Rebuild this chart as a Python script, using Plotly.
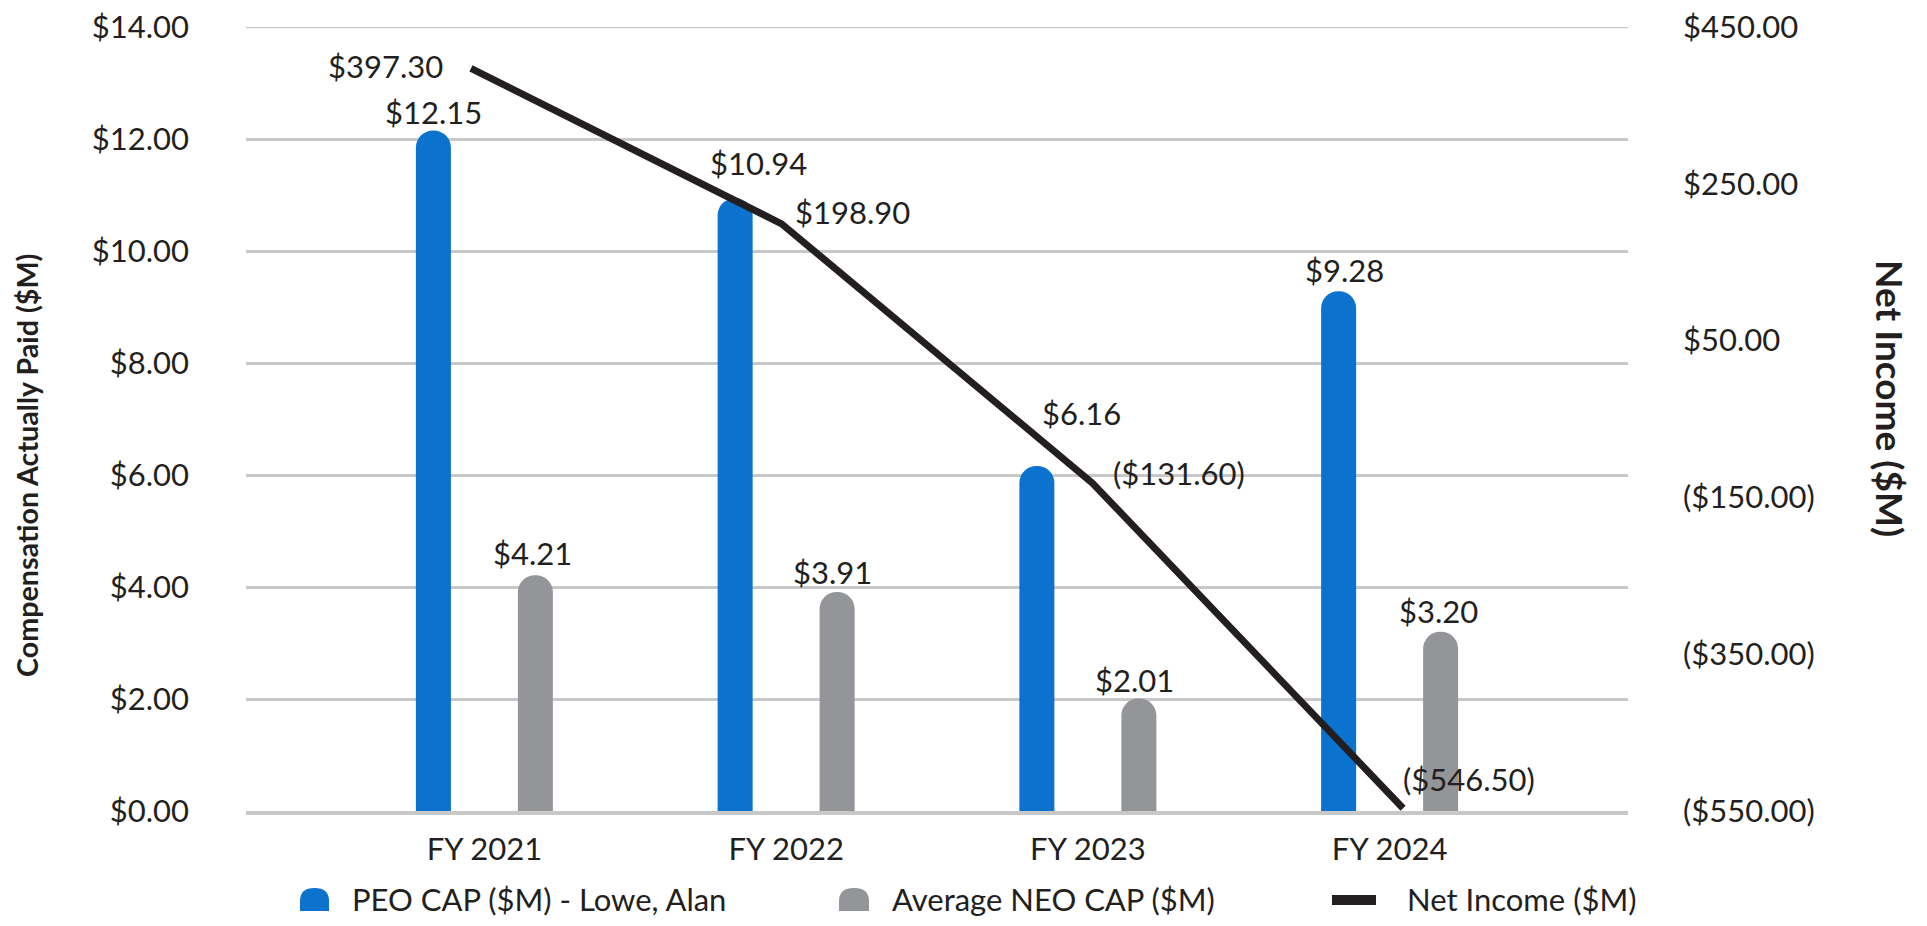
import plotly.graph_objects as go

# ---------------- data ----------------
categories = ["FY 2021", "FY 2022", "FY 2023", "FY 2024"]
peo_cap = [12.15, 10.94, 6.16, 9.28]
neo_cap = [4.21, 3.91, 2.01, 3.20]
net_income = [397.30, 198.90, -131.60, -546.50]

left_tickvals = [0, 2, 4, 6, 8, 10, 12, 14]
left_ticktext = ["$0.00", "$2.00", "$4.00", "$6.00", "$8.00", "$10.00", "$12.00", "$14.00"]
right_tickvals = [-550, -350, -150, 50, 250, 450]
right_ticktext = ["($550.00)", "($350.00)", "($150.00)", "$50.00", "$250.00", "$450.00"]

series_names = ["PEO CAP ($M) - Lowe, Alan", "Average NEO CAP ($M)", "Net Income ($M)"]

# ---------------- styles / layout ----------------
W, H = 1927, 926
PAGE_OFF = 8            # default body margin of the html page
L, R, T, B = 246, 1628, 27, 811   # plot area in screen pixels
BLUE = "#0B72CE"
GRAY = "#939598"
BLACK = "#231F20"
GRID = "#C8C8C8"
FONT = "Lato"
FS = 31

BAR_OFF = 0.169
BAR_W = 0.116

# label offsets (pixels)
peo_lbl_dx = [0, 23, 45, 6]
peo_lbl_dy = [19, 35, 53, 21]
neo_lbl_dx = [-3, -5, -4, -2]
neo_lbl_dy = [22, 20, 18, 21]
ni_lbl_anchor = ["right", "left", "left", "left"]
ni_lbl_dx = [-26, 11, 19, -2]
ni_lbl_dy = [2, 12, 10, 29]


def px_x(px):
    return (px - L) / (R - L)


def px_y(py):
    return (B - py) / (B - T)


def money(v):
    return f"(${abs(v):,.2f})" if v < 0 else f"${v:,.2f}"


idx = list(range(len(categories)))

fig = go.Figure()
fig.add_trace(go.Bar(
    x=idx, y=peo_cap, name=series_names[0], width=BAR_W, offset=-BAR_OFF - BAR_W / 2,
    marker=dict(color=BLUE, cornerradius="50%", line=dict(width=0)), showlegend=False,
    hoverinfo="y",
))
fig.add_trace(go.Bar(
    x=idx, y=neo_cap, name=series_names[1], width=BAR_W, offset=BAR_OFF - BAR_W / 2,
    marker=dict(color=GRAY, cornerradius="50%", line=dict(width=0)), showlegend=False,
    hoverinfo="y",
))
fig.add_trace(go.Scatter(
    x=idx, y=net_income, name=series_names[2], mode="lines",
    line=dict(color=BLACK, width=7), xaxis="x2", yaxis="y2", showlegend=False,
))

annotations = []
for i in idx:
    annotations.append(dict(
        x=i - BAR_OFF, y=peo_cap[i], xref="x", yref="y", text=money(peo_cap[i]),
        showarrow=False, xanchor="center", yanchor="middle",
        xshift=peo_lbl_dx[i], yshift=peo_lbl_dy[i],
        font=dict(family=FONT, size=FS, color=BLACK)))
    annotations.append(dict(
        x=i + BAR_OFF, y=neo_cap[i], xref="x", yref="y", text=money(neo_cap[i]),
        showarrow=False, xanchor="center", yanchor="middle",
        xshift=neo_lbl_dx[i], yshift=neo_lbl_dy[i],
        font=dict(family=FONT, size=FS, color=BLACK)))
    annotations.append(dict(
        x=i, y=net_income[i], xref="x2", yref="y2", text=money(net_income[i]),
        showarrow=False, xanchor=ni_lbl_anchor[i], yanchor="middle",
        xshift=ni_lbl_dx[i], yshift=ni_lbl_dy[i],
        font=dict(family=FONT, size=FS, color=BLACK)))

# axis titles
annotations.append(dict(
    x=px_x(27), y=px_y(466), xref="paper", yref="paper", text="<b>Compensation Actually Paid ($M)</b>",
    textangle=-90, showarrow=False, xanchor="center", yanchor="middle",
    font=dict(family=FONT, size=28.7, color=BLACK)))
annotations.append(dict(
    x=px_x(1891), y=px_y(398), xref="paper", yref="paper", text="<b>Net Income ($M)</b>",
    textangle=90, showarrow=False, xanchor="center", yanchor="middle",
    font=dict(family=FONT, size=37, color=BLACK)))

# legend (manual)
leg_text_x = [350, 890, 1405]
leg_y = 899
for name, tx in zip(series_names, leg_text_x):
    annotations.append(dict(
        x=px_x(tx), y=px_y(leg_y), xref="paper", yref="paper", text=name,
        showarrow=False, xanchor="left", yanchor="middle",
        font=dict(family=FONT, size=FS, color=BLACK)))


def rounded_top(x0, x1, y0, y1, r):
    X0, X1, XC = px_x(x0), px_x(x1), px_x((x0 + x1) / 2)
    YT, YM, YB = px_y(y0), px_y(y0 + r), px_y(y1)
    return (f"M {X0},{YB} L {X0},{YM} Q {X0},{YT} {XC},{YT} "
            f"Q {X1},{YT} {X1},{YM} L {X1},{YB} Z")


shapes = [
    # top gridline (plotly drops gridlines lying on the plot edge)
    dict(type="line", xref="paper", yref="y", x0=0, x1=1, y0=left_tickvals[-1], y1=left_tickvals[-1],
         line=dict(color=GRID, width=2.5), layer="below"),
    dict(type="path", xref="paper", yref="paper", path=rounded_top(300, 329, 888, 911, 13),
         fillcolor=BLUE, line=dict(width=0)),
    dict(type="path", xref="paper", yref="paper", path=rounded_top(839, 869, 888, 911, 13),
         fillcolor=GRAY, line=dict(width=0)),
    dict(type="line", xref="paper", yref="paper", x0=px_x(1332), x1=px_x(1376),
         y0=px_y(900), y1=px_y(900), line=dict(color=BLACK, width=10)),
]

fig.update_layout(
    width=W - PAGE_OFF, height=H - PAGE_OFF,
    margin=dict(l=L - PAGE_OFF, r=W - R, t=T - PAGE_OFF, b=H - B, pad=0, autoexpand=False),
    paper_bgcolor="white", plot_bgcolor="white",
    barmode="overlay",
    font=dict(family=FONT, size=FS, color=BLACK),
    showlegend=False,
    annotations=annotations,
    shapes=shapes,
    xaxis=dict(
        range=[-0.79, 3.79], tickvals=idx, ticktext=categories, automargin=False,
        showgrid=False, zeroline=False, showline=True, linecolor=GRID, linewidth=4,
        ticks="", ticklabelstandoff=8, tickfont=dict(family=FONT, size=FS, color=BLACK),
        fixedrange=True,
    ),
    xaxis2=dict(
        range=[-0.724, 3.724], overlaying="x", visible=False, anchor="y2", fixedrange=True,
        automargin=False,
    ),
    yaxis=dict(
        range=[0, 14], tickvals=left_tickvals, ticktext=left_ticktext, automargin=False,
        showgrid=True, gridcolor=GRID, gridwidth=2.5, zeroline=False, showline=False,
        ticks="", ticklabelstandoff=56, ticklabeloverflow="allow",
        tickfont=dict(family=FONT, size=FS, color=BLACK),
        fixedrange=True,
    ),
    yaxis2=dict(
        range=[-550, 450], tickvals=right_tickvals, ticktext=right_ticktext,
        overlaying="y", side="right", anchor="x2", automargin=False,
        showgrid=False, zeroline=False, showline=False,
        ticks="", ticklabelstandoff=54, ticklabeloverflow="allow",
        tickfont=dict(family=FONT, size=FS, color=BLACK),
        fixedrange=True,
    ),
)

fig.write_html("out.html", config={"displayModeBar": False})
